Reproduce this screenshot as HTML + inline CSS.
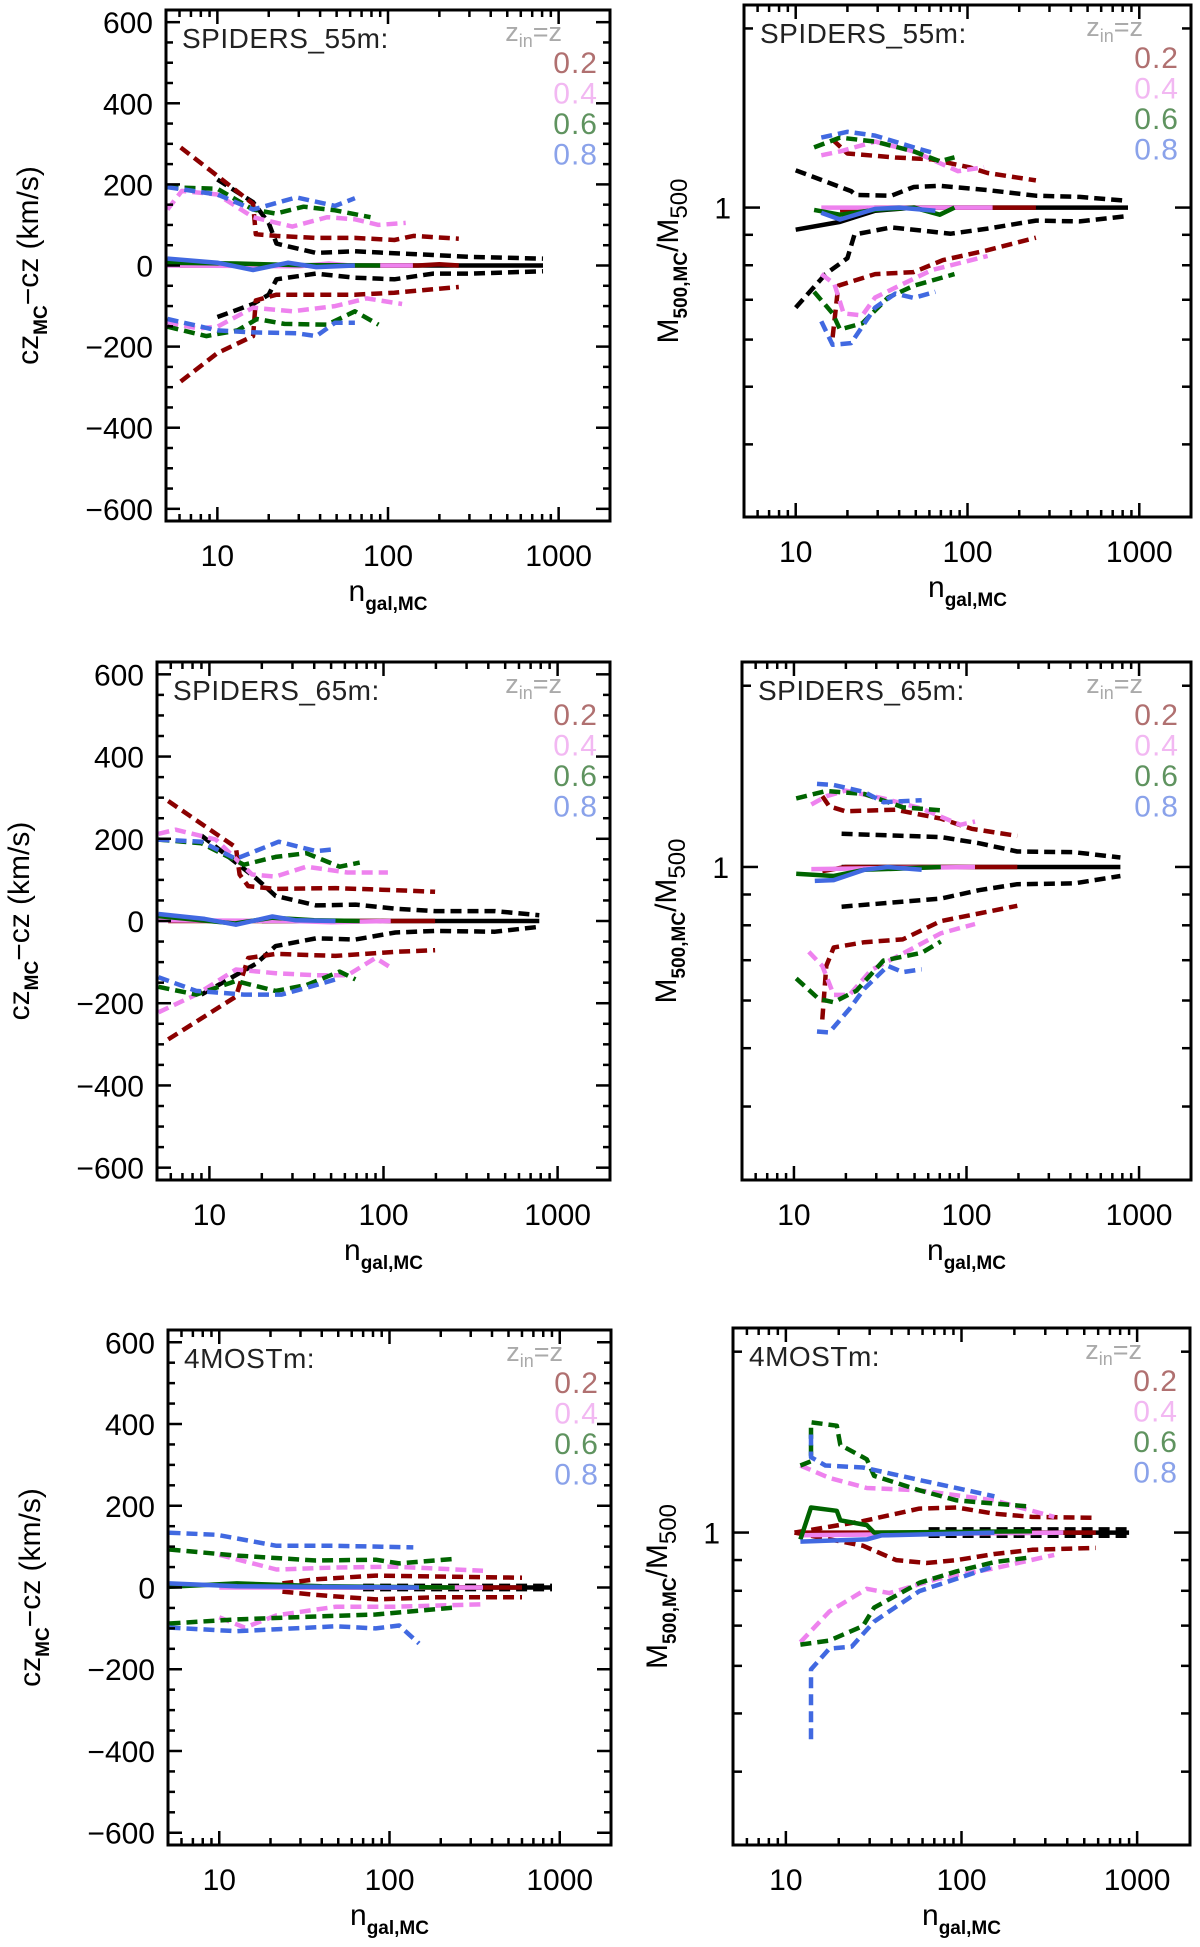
<!DOCTYPE html>
<html><head><meta charset="utf-8"><style>
html,body{margin:0;padding:0;background:#fff;}
svg{display:block;font-family:"Liberation Sans",sans-serif;}
</style></head><body>
<svg id="fig" width="1200" height="1947" viewBox="0 0 1200 1947" xmlns="http://www.w3.org/2000/svg"></svg>
<script>
// ---------- data: cz panels (x = n_gal,MC, y = cz_MC - cz km/s) ----------
const xTicks = [10, 100, 1000];
const xTickLabels = ["10", "100", "1000"];
const czTicks = [-600, -400, -200, 0, 200, 400, 600];
const czTickLabels = ["\u2212600", "\u2212400", "\u2212200", "0", "200", "400", "600"];
const mTicks = [2, 0.9, 0.8, 0.7, 0.6, 0.5, 0.4];
const mLabelTicks = [1];
const mTickLabels = ["1"];

// SPIDERS_55m cz
const a_blackUp = [[10,212],[16.2,156],[20,105],[22.2,54],[37.8,31],[64,35],[109,30],[184,26],[313,21],[810,17]];
const a_blackLo = [[10,-127],[16.2,-95],[20,-72],[22.2,-34],[37.8,-20],[64,-30],[109,-34],[184,-20],[313,-20],[810,-14]];
const a_blackMid = [[20,0],[810,0]];
const a_redUp = [[6.1,291],[10,221],[16.2,152],[16.8,77],[22.2,73],[37.8,68],[64,68],[109,63],[141,73],[260,66]];
const a_redLo = [[6.1,-286],[10,-216],[16.2,-174],[16.8,-86],[22.2,-72],[37.8,-72],[64,-72],[109,-67],[260,-53]];
const a_redMid = [[6,0],[150,0],[200,3],[260,0]];
const a_pinkUp = [[5.1,138],[6.2,184],[10,175],[16.2,119],[27.5,96],[44,119],[64,114],[88,100],[127,105]];
const a_pinkLo = [[5.1,-141],[7.7,-155],[10,-151],[16.2,-104],[27.5,-113],[49,-100],[75,-81],[121,-95]];
const a_pinkMid = [[5.1,0],[30,-2],[45,5],[60,0],[140,0]];
const a_greenUp = [[5.1,193],[10,189],[16.2,138],[22,128],[32,145],[49,136],[79,119]];
const a_greenLo = [[5.1,-151],[8.6,-174],[13.1,-160],[17.1,-132],[24.7,-144],[44,-146],[64,-113],[88,-146]];
const a_greenMid = [[5.1,7],[13,5],[30,1],[90,0]];
const a_blueUp = [[5.1,193],[10,175],[16.2,138],[29,168],[49,147],[64,166]];
const a_blueLo = [[5.1,-132],[10,-160],[16.2,-165],[29,-167],[38,-174],[49,-141],[64,-141]];
const a_blueMid = [[5.1,17],[10,7],[16.2,-11],[26,7],[38,-4],[64,0]];

// SPIDERS_65m cz
const c_blackUp = [[9,208],[18.5,104],[24,61],[41,38],[69,40],[117,30],[198,24],[437,24],[785,14]];
const c_blackLo = [[9,-179],[18.5,-104],[24,-61],[41,-42],[69,-45],[117,-28],[198,-24],[437,-26],[785,-14]];
const c_blackMid = [[20,0],[785,0]];
const c_redUp = [[5.8,292],[14.2,179],[14.9,113],[16.7,85],[24,78],[53,80],[117,75],[198,71]];
const c_redLo = [[5.8,-288],[14.2,-184],[16.7,-90],[24,-80],[53,-85],[117,-75],[198,-71]];
const c_redMid = [[5.8,0],[198,0]];
const c_pinkUp = [[5.1,212],[6.4,222],[10.9,198],[17.6,113],[24,108],[36,132],[62,118],[106,118]];
const c_pinkLo = [[5.1,-222],[8.4,-179],[14.2,-118],[24,-127],[41,-132],[62,-132],[90,-90],[110,-113]];
const c_pinkMid = [[5.1,2],[30,0],[50,-3],[110,0]];
const c_greenUp = [[5.1,198],[9,189],[15.8,137],[24,156],[36,165],[56,132],[73,142]];
const c_greenLo = [[5.1,-160],[8.4,-179],[14.2,-146],[24,-170],[36,-156],[56,-123],[69,-142]];
const c_greenMid = [[5.1,12],[14,-6],[23,8],[40,2],[73,0]];
const c_blueUp = [[5.1,198],[9,193],[14.2,151],[25,193],[41,170],[53,175]];
const c_blueLo = [[5.1,-137],[8.4,-170],[15.8,-179],[26,-179],[41,-156],[53,-142]];
const c_blueMid = [[5.1,17],[9.4,5],[14.2,-9],[23,11],[31,2],[53,0]];

// 4MOSTm cz
const e_blackUp = [[70,4],[900,4]];
const e_blackLo = [[70,-4],[900,-4]];
const e_blackMid = [[70,0],[900,0]];
const e_redUp = [[23.5,10],[37,20],[83,29],[185,27],[600,24]];
const e_redLo = [[23.5,-10],[37,-18],[83,-29],[185,-24],[600,-24]];
const e_redMid = [[23.5,0],[600,0]];
const e_pinkUp = [[10,80],[21.7,44],[48.5,49],[108,51],[354,41]];
const e_pinkLo = [[10,-73],[14.1,-98],[21.7,-68],[48.5,-47],[108,-47],[354,-41]];
const e_pinkMid = [[10,0],[354,0]];
const e_greenUp = [[5.1,93],[12.7,78],[37,66],[83,68],[114,59],[242,70]];
const e_greenLo = [[5.1,-88],[12.7,-78],[37,-71],[83,-66],[242,-49]];
const e_greenMid = [[5.1,2],[12.7,10],[40,3],[242,0]];
const e_blueUp = [[5.1,134],[9.7,129],[21.7,102],[48.5,102],[138,98]];
const e_blueLo = [[5.1,-98],[12.7,-107],[48.5,-95],[83,-100],[114,-93],[149,-137]];
const e_blueMid = [[5.1,10],[12.7,3],[60,1],[149,0]];

// SPIDERS_55m mass ratio
const b_blackUp = [[10,1.155],[21,1.066],[22.3,1.05],[36,1.047],[48.7,1.083],[69,1.088],[131,1.07],[250,1.047],[450,1.042],[860,1.026]];
const b_blackLo = [[10,0.679],[14.9,0.773],[20,0.822],[22,0.901],[36,0.926],[80,0.904],[131,0.922],[250,0.951],[450,0.948],[860,0.968]];
const b_blackMid = [[10,0.918],[18.1,0.946],[29,0.988],[48.7,1],[860,1]];
const b_redUp = [[16.4,1.301],[20,1.233],[38,1.214],[62,1.205],[102,1.169],[131,1.143],[250,1.111]];
const b_redLo = [[16.4,0.605],[17.7,0.739],[29,0.773],[48.7,0.779],[72,0.816],[131,0.848],[250,0.89]];
const b_redMid = [[18.1,0.99],[29,1],[250,1]];
const b_pinkUp = [[14.1,1.224],[18.1,1.243],[29,1.291],[48.7,1.243],[88,1.151],[125,1.169]];
const b_pinkLo = [[14.1,0.773],[16.8,0.744],[19,0.664],[24.4,0.659],[29,0.706],[42,0.744],[62,0.785],[131,0.829]];
const b_pinkMid = [[14.1,1],[140,1]];
const b_greenUp = [[12.8,1.262],[18.1,1.311],[29,1.291],[48.7,1.243],[69,1.196],[84,1.215]];
const b_greenLo = [[12.8,0.722],[16.4,0.664],[18.1,0.624],[24.4,0.639],[34.5,0.706],[48.7,0.739],[84,0.773]];
const b_greenMid = [[12.8,0.991],[18.1,0.973],[29,0.991],[48.7,1],[69,0.973],[84,1]];
const b_blueUp = [[14.1,1.311],[20,1.341],[29,1.321],[48.7,1.262],[65,1.233]];
const b_blueLo = [[14.1,0.644],[16.4,0.588],[21,0.592],[29,0.679],[38,0.717],[48.7,0.705],[65,0.722]];
const b_blueMid = [[14.1,0.98],[18.1,0.955],[29,0.995],[40,1],[65,0.988]];

// SPIDERS_65m mass ratio
const d_blackUp = [[18.9,1.135],[71,1.121],[118,1.095],[197,1.061],[420,1.058],[780,1.037]];
const d_blackLo = [[18.9,0.859],[71,0.886],[118,0.915],[197,0.936],[420,0.939],[780,0.966]];
const d_blackMid = [[18.9,1],[780,1]];
const d_redUp = [[14.6,1.311],[16,1.261],[19.9,1.237],[38.6,1.245],[71,1.203],[107,1.157],[197,1.126]];
const d_redLo = [[14.6,0.558],[15.4,0.685],[17,0.735],[25.6,0.75],[42.7,0.758],[71,0.813],[118,0.837],[197,0.862]];
const d_redMid = [[14.6,0.984],[19.9,1],[197,1]];
const d_pinkUp = [[12.6,1.27],[15.4,1.311],[19.9,1.339],[33,1.3],[55,1.25],[92,1.175],[112,1.19]];
const d_pinkLo = [[12.2,0.723],[14.6,0.685],[17,0.613],[21,0.613],[28,0.674],[42.7,0.718],[71,0.776],[112,0.804]];
const d_pinkMid = [[12.6,0.992],[30,0.995],[112,1]];
const d_greenUp = [[10.3,1.3],[15.4,1.337],[25.6,1.322],[42.7,1.257],[71,1.242]];
const d_greenLo = [[10.3,0.653],[13.9,0.604],[17,0.596],[23,0.623],[33,0.699],[55,0.72],[71,0.752]];
const d_greenMid = [[10.3,0.974],[17,0.966],[25.6,0.989],[42.7,0.994],[71,1]];
const d_blueUp = [[13.6,1.374],[17,1.368],[25.6,1.332],[33,1.281],[55,1.291]];
const d_blueLo = [[13.6,0.533],[16,0.531],[21,0.581],[25.6,0.628],[35,0.685],[42.7,0.669],[55,0.676]];
const d_blueMid = [[13.2,0.948],[17,0.951],[25.6,0.989],[35,1],[55,0.989]];

// 4MOSTm mass ratio
const f_blackUp = [[65,1.012],[900,1.012]];
const f_blackLo = [[65,0.988],[900,0.988]];
const f_blackMid = [[65,1],[900,1]];
const f_redUp = [[11.2,1],[27.5,1.045],[57.6,1.096],[94,1.101],[154,1.075],[252,1.062],[582,1.058]];
const f_redLo = [[11.2,1],[27.5,0.951],[42.4,0.9],[63,0.89],[94,0.9],[154,0.921],[252,0.936],[582,0.943]];
const f_redMid = [[11.2,1],[582,1]];
const f_pinkUp = [[12.1,1.293],[17.7,1.233],[28.9,1.186],[57.6,1.176],[154,1.131],[337,1.062]];
const f_pinkLo = [[12.1,0.657],[17.7,0.739],[28.9,0.806],[38.8,0.793],[74,0.838],[154,0.872],[337,0.918]];
const f_pinkMid = [[12.1,0.99],[380,1]];
const f_greenUp = [[12.1,1.293],[13.9,1.314],[13.9,1.526],[19.5,1.506],[20.4,1.399],[28.9,1.324],[31.8,1.243],[57.6,1.176],[94,1.131],[252,1.104]];
const f_greenLo = [[12.1,0.651],[17.7,0.661],[27.5,0.699],[31.8,0.75],[57.6,0.825],[94,0.862],[154,0.893],[252,0.91]];
const f_greenMid = [[12.1,0.974],[13.9,1.101],[19.5,1.087],[20.4,1.048],[28.9,1.029],[31.8,1],[252,1.005]];
const f_blueUp = [[13.9,1.456],[13.9,1.335],[16.8,1.293],[27.5,1.283],[57.6,1.223],[154,1.149]];
const f_blueLo = [[13.9,0.453],[13.9,0.592],[17.7,0.641],[23.7,0.646],[31.8,0.711],[57.6,0.799],[154,0.879]];
const f_blueMid = [[12.1,0.966],[16.8,0.969],[28.9,0.974],[35,0.989],[154,1]];

const COLORS = {black:"#000000", red:"#8b0000", pink:"#ee82ee", green:"#006400", blue:"#4169e1"};
const LEG = [["0.2","#b07070"],["0.4","#f2b8f2"],["0.6","#5f935f"],["0.8","#8aa2ea"]];

const NS = "http://www.w3.org/2000/svg";
const fig = document.getElementById('fig');
function mk(tag, attrs, parent){
  const e = document.createElementNS(NS, tag);
  for (const k in attrs) e.setAttribute(k, attrs[k]);
  (parent||fig).appendChild(e);
  return e;
}

function panel(id, box, kind, title, series){
  const [L,T,R,B] = box;
  const g = mk('g', {});
  
  
  const xmin = Math.log10(5), xmax = Math.log10(2000);
  const xs = v => L + (Math.log10(v) - xmin) / (xmax - xmin) * (R - L);
  let ys;
  if (kind === 'cz') { ys = v => T + (630 - v) / 1260 * (B - T); }
  else { const a = Math.log10(2.19), b = Math.log10(0.302); ys = v => T + (a - Math.log10(v)) / (a - b) * (B - T); }

  const sg = mk('g', {}, g);
  
  
  for (const s of series){
    const d = s.data.map((p,i) => (i ? 'L' : 'M') + xs(p[0]).toFixed(1) + ' ' + ys(p[1]).toFixed(1)).join(' ');
    const path = mk('path', {d:d, fill:'none', stroke:COLORS[s.c], 'stroke-width':4.5, 'stroke-linejoin':'round'}, sg);
    if (s.dash) path.setAttribute('stroke-dasharray', '11 6');
    
    
  }

  const fr = mk('rect', {x:L, y:T, width:R-L, height:B-T, fill:'none', stroke:'#000', 'stroke-width':3}, g);
  
  

  const tg = mk('g', {stroke:'#000', 'stroke-width':2.5}, g);
  
  
  for (let dec = 1; dec <= 1000; dec *= 10){
    for (let m = 1; m <= 9; m++){
      const v = dec * m; if (v < 5 || v > 2000) continue;
      const x = xs(v), len = m === 1 ? 14 : 7;
      mk('line', {x1:x, y1:B, x2:x, y2:B-len}, tg);
      mk('line', {x1:x, y1:T, x2:x, y2:T+len}, tg);
    }
  }
  if (kind === 'cz'){
    for (let v = -600; v <= 600; v += 50){
      const y = ys(v), len = v % 200 === 0 ? 14 : 7;
      mk('line', {x1:L, y1:y, x2:L+len, y2:y}, tg);
      mk('line', {x1:R, y1:y, x2:R-len, y2:y}, tg);
    }
  } else {
    for (const v of mTicks){ const y = ys(v); mk('line',{x1:L,y1:y,x2:L+9,y2:y},tg); mk('line',{x1:R,y1:y,x2:R-9,y2:y},tg); }
    for (const v of mLabelTicks){ const y = ys(v); mk('line',{x1:L,y1:y,x2:L+16,y2:y},tg); mk('line',{x1:R,y1:y,x2:R-16,y2:y},tg); }
  }

  xTicks.forEach((v,i) => {
    const t = mk('text', {x:xs(v), y:B+45, 'font-size':30, 'text-anchor':'middle', fill:'#000'}, g);
    t.textContent = xTickLabels[i];
    
    
  });
  const yt = kind === 'cz' ? czTicks : mLabelTicks, yl = kind === 'cz' ? czTickLabels : mTickLabels;
  yt.forEach((v,i) => {
    const t = mk('text', {x:L-13, y:ys(v)+11, 'font-size':30, 'text-anchor':'end', fill:'#000'}, g);
    t.textContent = yl[i];
    
    
  });

  const xt = mk('text', {x:xs(100), y:B+80, 'font-size':30, 'text-anchor':'middle', fill:'#000'}, g);
  xt.innerHTML = 'n<tspan font-size="19" dy="9" font-weight="bold">gal,MC</tspan>';
  
  
  const cy = (T + B) / 2;
  const tx = kind === 'cz' ? L - 128 : L - 66;
  const yt2 = mk('text', {x:tx, y:cy, 'font-size':30, 'text-anchor':'middle', fill:'#000', transform:'rotate(-90 '+tx+' '+cy+')'}, g);
  if (kind === 'cz') yt2.innerHTML = 'cz<tspan font-size="19" dy="9" font-weight="bold">MC</tspan><tspan dy="-9">\u2212cz  (km/s)</tspan>';
  else yt2.innerHTML = 'M<tspan font-size="19" dy="9" font-weight="bold">500,MC</tspan><tspan dy="-9">/M</tspan><tspan font-size="24" dy="9">500</tspan>';
  
  

  const pl = mk('text', {x:L+16, y:T+38, 'font-size':28, fill:'#222', 'letter-spacing':'0.5'}, g);
  pl.textContent = title;
  
  

  const lg = mk('g', {}, g);
  
  
  const zt = mk('text', {x:R-48, y:T+31, 'font-size':27, 'text-anchor':'end', fill:'#aaa'}, lg);
  zt.innerHTML = 'z<tspan font-size="18" dy="6">in</tspan><tspan dy="-6">=z</tspan>';
  
  
  LEG.forEach((e,i) => {
    const t = mk('text', {x:R-12, y:T+63+i*30.5, 'font-size':30, 'text-anchor':'end', fill:e[1], 'letter-spacing':'1'}, lg);
    t.textContent = e[0];
    
    
  });
}

function S(p){
  const out = [];
  for (const c of ['black','red','pink','green','blue']){
    out.push({name:c+'-upper', c:c, dash:true, data:p[c+'Up']});
    out.push({name:c+'-lower', c:c, dash:true, data:p[c+'Lo']});
  }
  for (const c of ['black','red','pink','green','blue']) out.push({name:c+'-median', c:c, dash:false, data:p[c+'Mid']});
  return out;
}

panel('spiders55-cz', [166,10,610,521], 'cz', 'SPIDERS_55m:', S({blackUp:a_blackUp,blackLo:a_blackLo,blackMid:a_blackMid,redUp:a_redUp,redLo:a_redLo,redMid:a_redMid,pinkUp:a_pinkUp,pinkLo:a_pinkLo,pinkMid:a_pinkMid,greenUp:a_greenUp,greenLo:a_greenLo,greenMid:a_greenMid,blueUp:a_blueUp,blueLo:a_blueLo,blueMid:a_blueMid}));
panel('spiders55-mass', [744,5,1191,517], 'm', 'SPIDERS_55m:', S({blackUp:b_blackUp,blackLo:b_blackLo,blackMid:b_blackMid,redUp:b_redUp,redLo:b_redLo,redMid:b_redMid,pinkUp:b_pinkUp,pinkLo:b_pinkLo,pinkMid:b_pinkMid,greenUp:b_greenUp,greenLo:b_greenLo,greenMid:b_greenMid,blueUp:b_blueUp,blueLo:b_blueLo,blueMid:b_blueMid}));
panel('spiders65-cz', [157,662,610,1180], 'cz', 'SPIDERS_65m:', S({blackUp:c_blackUp,blackLo:c_blackLo,blackMid:c_blackMid,redUp:c_redUp,redLo:c_redLo,redMid:c_redMid,pinkUp:c_pinkUp,pinkLo:c_pinkLo,pinkMid:c_pinkMid,greenUp:c_greenUp,greenLo:c_greenLo,greenMid:c_greenMid,blueUp:c_blueUp,blueLo:c_blueLo,blueMid:c_blueMid}));
panel('spiders65-mass', [742,662,1191,1180], 'm', 'SPIDERS_65m:', S({blackUp:d_blackUp,blackLo:d_blackLo,blackMid:d_blackMid,redUp:d_redUp,redLo:d_redLo,redMid:d_redMid,pinkUp:d_pinkUp,pinkLo:d_pinkLo,pinkMid:d_pinkMid,greenUp:d_greenUp,greenLo:d_greenLo,greenMid:d_greenMid,blueUp:d_blueUp,blueLo:d_blueLo,blueMid:d_blueMid}));
panel('4most-cz', [168,1330,611,1845], 'cz', '4MOSTm:', S({blackUp:e_blackUp,blackLo:e_blackLo,blackMid:e_blackMid,redUp:e_redUp,redLo:e_redLo,redMid:e_redMid,pinkUp:e_pinkUp,pinkLo:e_pinkLo,pinkMid:e_pinkMid,greenUp:e_greenUp,greenLo:e_greenLo,greenMid:e_greenMid,blueUp:e_blueUp,blueLo:e_blueLo,blueMid:e_blueMid}));
panel('4most-mass', [733,1328,1190,1845], 'm', '4MOSTm:', S({blackUp:f_blackUp,blackLo:f_blackLo,blackMid:f_blackMid,redUp:f_redUp,redLo:f_redLo,redMid:f_redMid,pinkUp:f_pinkUp,pinkLo:f_pinkLo,pinkMid:f_pinkMid,greenUp:f_greenUp,greenLo:f_greenLo,greenMid:f_greenMid,blueUp:f_blueUp,blueLo:f_blueLo,blueMid:f_blueMid}));
</script>
</body></html>
